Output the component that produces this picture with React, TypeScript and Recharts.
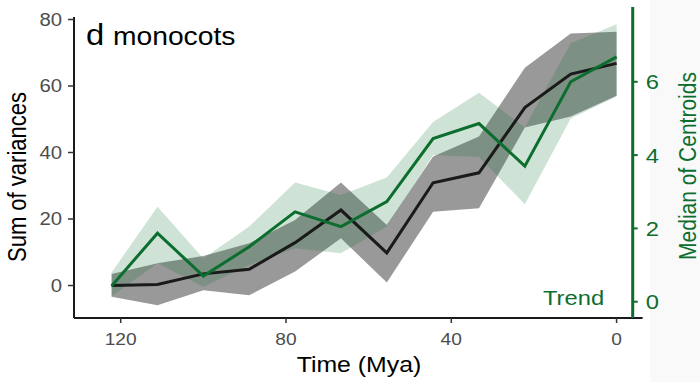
import React from 'react';
import { ComposedChart, Area, Line, XAxis, YAxis, ReferenceLine } from 'recharts';

// time bins (Mya), oldest first
const times = [122.2, 111.1, 100, 88.9, 77.8, 66.7, 55.6, 44.4, 33.3, 22.2, 11.1, 0];

// sum of variances (left axis) with its interval
const sumVar = [0, 0.3, 3.5, 4.9, 12.9, 22.7, 9.8, 30.9, 33.9, 53.5, 63.6, 66.8];
const sumVarLow = [-3.4, -5.9, -1.4, -2.9, 4.2, 14.2, 0.9, 22.2, 23.2, 47.5, 50.8, 57.1];
const sumVarHigh = [3.5, 6.7, 8.9, 12.7, 19.7, 31.0, 18.2, 38.8, 44.8, 65.5, 75.8, 76.3];

// median of centroids (right axis) with its interval
const centroid = [0.43, 1.87, 0.7, 1.5, 2.45, 2.05, 2.73, 4.45, 4.86, 3.7, 6.0, 6.68];
const centroidLow = [0.15, 1.05, 0.41, 1.0, 1.46, 1.32, 2.05, 4.0, 3.95, 2.66, 5.0, 5.6];
const centroidHigh = [0.8, 2.59, 1.18, 2.05, 3.25, 2.91, 3.39, 4.9, 5.7, 4.75, 7.05, 7.57];

const xTicks = [120, 80, 40, 0];
const leftTicks = [0, 20, 40, 60, 80];
const rightTicks = [0, 2, 4, 6];

const X_MIN = -3.9;
const X_MAX = 131.3;
const X_AXIS_END = -6.3;
const LEFT_MIN = -9.77;
const LEFT_MAX = 83.76;
const LEFT_LINE_TOP = 80.75;
const RIGHT_MIN = -0.444;
const RIGHT_MAX = 8.04;

const GREEN = '#0b6e2e';
const GREY_TEXT = '#4d4d4d';
const FONT = '"Liberation Sans", Arial, sans-serif';
const STRETCH = 1.13;

const data = times.map((t, i) => ({
  time: t,
  sumVar: sumVar[i],
  sumBand: [sumVarLow[i], sumVarHigh[i]],
  centroid: centroid[i],
  centBand: [centroidLow[i], centroidHigh[i]],
}));

function StretchTick(props: any) {
  const { x, y, payload, textAnchor, color, size, dy } = props;
  return (
    <text
      transform={`translate(${x},${y}) scale(${STRETCH},1)`}
      textAnchor={textAnchor}
      dy={dy}
      fill={color}
      fontSize={size}
      fontFamily={FONT}
    >
      {payload.value}
    </text>
  );
}

export default function App() {
  return (
    <div style={{ position: 'absolute', left: 0, top: 0, width: 700, height: 382, background: '#fff' }}>
      <div style={{ position: 'absolute', left: 650, top: 0, width: 50, height: 382, background: '#f9f9f9' }} />
      <div style={{ position: 'absolute', left: 0, top: 0 }}>
        <ComposedChart
          width={700}
          height={382}
          data={data}
          margin={{ top: 7, right: 0, bottom: 0, left: 0 }}
        >
          <XAxis
            type="number"
            dataKey="time"
            domain={[X_MIN, X_MAX]}
            reversed
            allowDataOverflow
            ticks={xTicks}
            height={64}
            axisLine={false}
            tickLine={{ stroke: '#333', strokeWidth: 1.5 }}
            tickSize={5}
            tickMargin={10}
            tick={(p: any) => <StretchTick {...p} color={GREY_TEXT} size={17} dy="0.71em" />}
          />
          <YAxis
            yAxisId="left"
            orientation="left"
            domain={[LEFT_MIN, LEFT_MAX]}
            allowDataOverflow
            ticks={leftTicks}
            width={74}
            axisLine={false}
            tickLine={{ stroke: '#333', strokeWidth: 1.5 }}
            tickSize={6}
            tickMargin={6}
            tick={(p: any) => <StretchTick {...p} color={GREY_TEXT} size={18} dy="0.355em" />}
          />
          <YAxis
            yAxisId="right"
            orientation="right"
            domain={[RIGHT_MIN, RIGHT_MAX]}
            allowDataOverflow
            ticks={rightTicks}
            width={67.3}
            axisLine={{ stroke: GREEN, strokeWidth: 3 }}
            tickLine={{ stroke: GREEN, strokeWidth: 2 }}
            tickSize={5}
            tickMargin={8}
            tick={(p: any) => <StretchTick {...p} color={GREEN} size={21} dy="0.355em" />}
          />
          <Area
            yAxisId="left"
            type="linear"
            dataKey="sumBand"
            stroke="none"
            fill="#000"
            fillOpacity={0.4}
            isAnimationActive={false}
          />
          <Area
            yAxisId="right"
            type="linear"
            dataKey="centBand"
            stroke="none"
            fill={GREEN}
            fillOpacity={0.2}
            isAnimationActive={false}
          />
          <Line
            yAxisId="left"
            type="linear"
            dataKey="sumVar"
            stroke="#1a1a1a"
            strokeWidth={3}
            dot={false}
            isAnimationActive={false}
          />
          <Line
            yAxisId="right"
            type="linear"
            dataKey="centroid"
            stroke={GREEN}
            strokeWidth={3}
            dot={false}
            isAnimationActive={false}
          />
          <ReferenceLine
            yAxisId="left"
            segment={[{ x: X_MAX, y: LEFT_MIN }, { x: X_MAX, y: LEFT_LINE_TOP }]}
            stroke="#1a1a1a"
            strokeWidth={2}
            ifOverflow="visible"
          />
          <ReferenceLine
            yAxisId="left"
            segment={[{ x: X_MAX, y: LEFT_MIN }, { x: X_AXIS_END, y: LEFT_MIN }]}
            stroke="#1a1a1a"
            strokeWidth={2}
            ifOverflow="visible"
          />
        </ComposedChart>
      </div>
      <svg
        width={700}
        height={382}
        style={{ position: 'absolute', left: 0, top: 0, pointerEvents: 'none' }}
        fontFamily={FONT}
      >
        <g transform={`translate(86,45) scale(${STRETCH},1)`}>
          <text fontSize={29} fill="#000">d</text>
        </g>
        <g transform={`translate(113,45) scale(${STRETCH},1)`}>
          <text fontSize={25} fill="#000">monocots</text>
        </g>
        <g transform={`translate(543,305) scale(${STRETCH},1)`}>
          <text fontSize={21} fill={GREEN}>Trend</text>
        </g>
        <g transform={`translate(359,372) scale(${STRETCH},1)`}>
          <text fontSize={22} fill="#000" textAnchor="middle">Time (Mya)</text>
        </g>
        <g transform={`translate(26,177) scale(${STRETCH},1) rotate(-90)`}>
          <text fontSize={22} fill="#000" textAnchor="middle">Sum of variances</text>
        </g>
        <g transform={`translate(696,166) scale(${STRETCH},1) rotate(-90)`}>
          <text fontSize={21} fill={GREEN} textAnchor="middle">Median of Centroids</text>
        </g>
      </svg>
    </div>
  );
}
